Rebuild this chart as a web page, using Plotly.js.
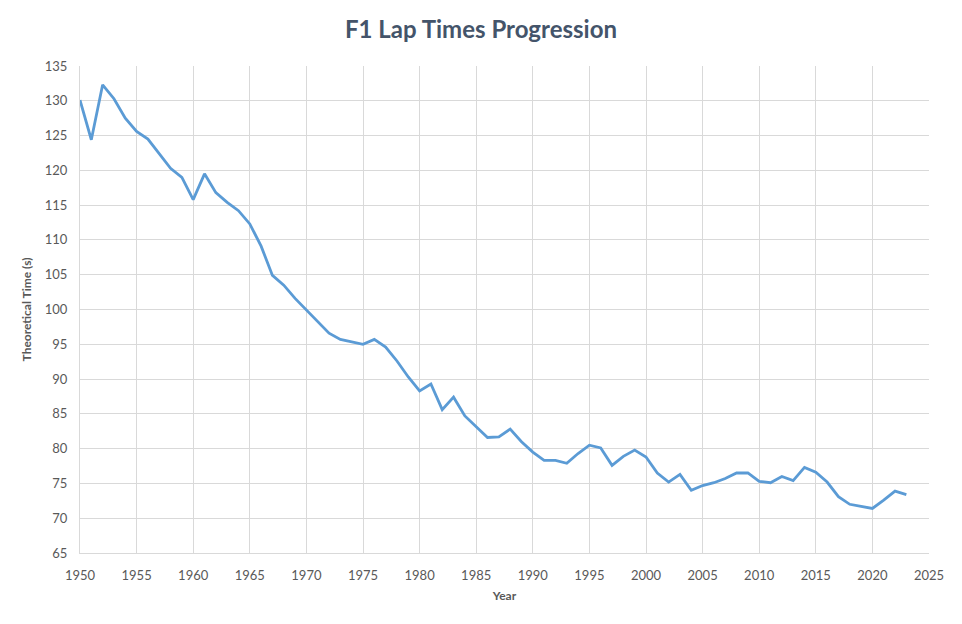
<!DOCTYPE html>
<html>
<head>
<meta charset="utf-8">
<script src="https://cdn.plot.ly/plotly-3.0.1.min.js"></script>
<style>html,body{margin:0;padding:0;background:#fff;}#chart{width:962px;height:624px;}</style>
</head>
<body>
<div id="chart"></div>
<script>
const years = [1950,1951,1952,1953,1954,1955,1956,1957,1958,1959,
  1960,1961,1962,1963,1964,1965,1966,1967,1968,1969,
  1970,1971,1972,1973,1974,1975,1976,1977,1978,1979,
  1980,1981,1982,1983,1984,1985,1986,1987,1988,1989,
  1990,1991,1992,1993,1994,1995,1996,1997,1998,1999,
  2000,2001,2002,2003,2004,2005,2006,2007,2008,2009,
  2010,2011,2012,2013,2014,2015,2016,2017,2018,2019,
  2020,2021,2022,2023];
const lapTimes = [130.1,124.4,132.3,130.3,127.5,125.6,124.5,122.4,120.3,119.0,
  115.8,119.5,116.8,115.4,114.2,112.3,109.1,104.9,103.5,101.6,
  99.9,98.3,96.6,95.7,95.3,95.0,95.7,94.6,92.6,90.3,
  88.3,89.3,85.6,87.4,84.7,83.1,81.6,81.7,82.8,81.0,
  79.5,78.3,78.3,77.9,79.3,80.5,80.1,77.6,78.9,79.8,
  78.8,76.5,75.2,76.3,74.0,74.7,75.1,75.7,76.5,76.5,
  75.3,75.1,76.0,75.4,77.3,76.6,75.2,73.1,72.0,71.7,
  71.4,72.6,73.9,73.4];
const xTicks = [1950,1955,1960,1965,1970,1975,1980,1985,1990,1995,2000,2005,2010,2015,2020,2025];
const yTicks = [65,70,75,80,85,90,95,100,105,110,115,120,125,130,135];

const fontFam = 'Lato, "Open Sans", sans-serif';
Plotly.newPlot('chart', [{
  x: years, y: lapTimes, type: 'scatter', mode: 'lines',
  line: {color: '#5b9bd5', width: 2.8}, hoverinfo: 'x+y'
}], {
  width: 962, height: 624,
  margin: {l: 80, r: 33, t: 66, b: 71},
  paper_bgcolor: '#fff', plot_bgcolor: '#fff',
  showlegend: false,
  title: {text: '<b>F1 Lap Times Progression</b>', x: 0.5, xanchor: 'center', y: 0.952, yanchor: 'middle',
    font: {family: fontFam, size: 24, color: '#44546a'}},
  xaxis: {
    range: [1950, 2025], tickvals: xTicks, ticktext: xTicks.map(String),
    showgrid: true, gridcolor: '#d9d9d9', gridwidth: 1,
    showline: true, linecolor: '#d9d9d9', linewidth: 1,
    zeroline: false, ticks: 'outside', ticklen: 10, tickcolor: 'rgba(0,0,0,0)',
    tickfont: {family: fontFam, size: 13, color: '#595959'},
    title: {text: '<b>Year</b>', font: {family: fontFam, size: 12, color: '#595959'}, standoff: 10}
  },
  yaxis: {
    range: [65, 135], tickvals: yTicks, ticktext: yTicks.map(String),
    showgrid: true, gridcolor: '#d9d9d9', gridwidth: 1,
    showline: true, linecolor: '#d9d9d9', linewidth: 1,
    zeroline: false, ticks: 'outside', ticklen: 9, tickcolor: 'rgba(0,0,0,0)',
    tickfont: {family: fontFam, size: 13, color: '#595959'},
    title: {text: '<b>Theoretical Time (s)</b>', font: {family: fontFam, size: 12, color: '#595959'}, standoff: 10}
  }
}, {displayModeBar: false, staticPlot: true});
</script>
</body>
</html>
